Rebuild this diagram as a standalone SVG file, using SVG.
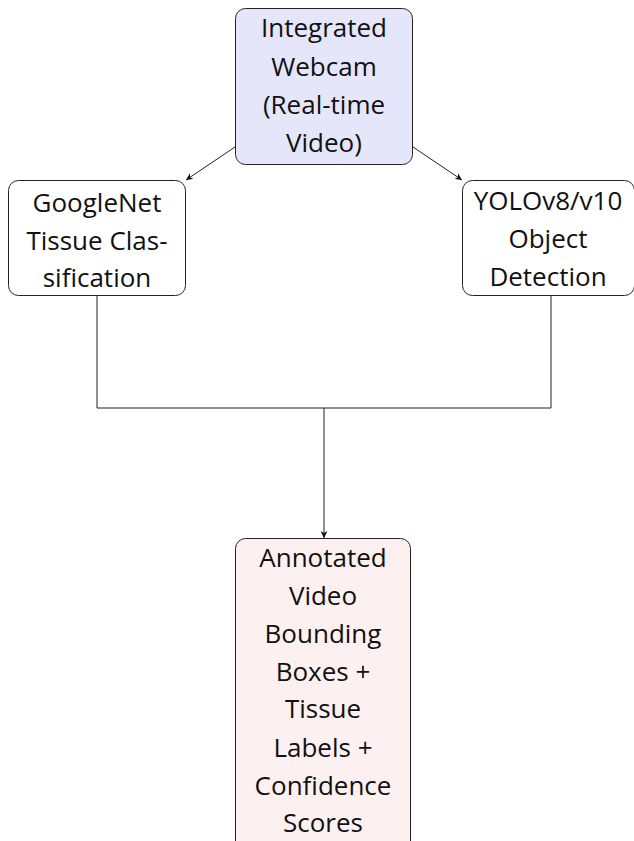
<svg xmlns="http://www.w3.org/2000/svg" width="634" height="841" viewBox="0 0 634 841">
  <style>
    .box { stroke: #222; stroke-width: 1; }
    .plain { fill: #ffffff; }
    .input { fill: #e6e6fb; }
    .output { fill: #fdf0f0; }
    .label { font-family: "Open Sans", "Noto Sans", sans-serif; font-size: 26px; fill: #111; text-anchor: middle; }
    .wire { fill: none; stroke: #222; stroke-width: 1; }
  </style>
  <defs>
    <marker id="arrow" viewBox="0 0 10 10" refX="10" refY="5" markerWidth="7" markerHeight="7" orient="auto" markerUnits="userSpaceOnUse">
      <path d="M0,0 L10,5 L0,10 L3,5 Z" fill="#111"/>
    </marker>
  </defs>
  <rect width="634" height="841" fill="#ffffff"/>

  <g id="connectors">
    <line class="wire" x1="235" y1="147" x2="186" y2="180" marker-end="url(#arrow)"/>
    <line class="wire" x1="413" y1="147" x2="462" y2="180" marker-end="url(#arrow)"/>
    <polyline class="wire" points="97,296 97,408 551,408 551,296"/>
    <line class="wire" x1="324" y1="408" x2="324" y2="538" marker-end="url(#arrow)"/>
  </g>

  <g id="webcam">
    <rect class="box input" x="235.5" y="8.5" width="177" height="156" rx="10"/>
    <text class="label" x="324" y="37">Integrated</text>
    <text class="label" x="324" y="76">Webcam</text>
    <text class="label" x="324" y="114">(Real-time</text>
    <text class="label" x="324" y="152">Video)</text>
  </g>

  <g id="googlenet">
    <rect class="box plain" x="8.5" y="180.5" width="177" height="115" rx="10"/>
    <text class="label" x="97" y="212">GoogleNet</text>
    <text class="label" x="97" y="250">Tissue Clas-</text>
    <text class="label" x="97" y="287">sification</text>
  </g>

  <g id="yolo">
    <rect class="box plain" x="462.5" y="180.5" width="172" height="115" rx="10"/>
    <text class="label" x="548" y="210">YOLOv8/v10</text>
    <text class="label" x="548" y="248">Object</text>
    <text class="label" x="548" y="286">Detection</text>
  </g>

  <g id="annotated">
    <rect class="box output" x="235.5" y="538.5" width="175" height="320" rx="10"/>
    <text class="label" x="323" y="567">Annotated</text>
    <text class="label" x="323" y="605">Video</text>
    <text class="label" x="323" y="643">Bounding</text>
    <text class="label" x="323" y="681">Boxes +</text>
    <text class="label" x="323" y="718">Tissue</text>
    <text class="label" x="323" y="757">Labels +</text>
    <text class="label" x="323" y="795">Confidence</text>
    <text class="label" x="323" y="832">Scores</text>
  </g>
</svg>
